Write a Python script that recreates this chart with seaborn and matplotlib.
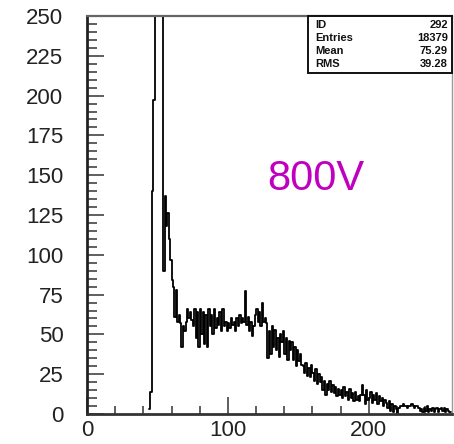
import numpy as np
import pandas as pd
import matplotlib
matplotlib.use("Agg")
import matplotlib.pyplot as plt
from matplotlib.patches import Rectangle
from matplotlib.ticker import MultipleLocator
import seaborn as sns

# Pulse-height spectrum at 800 V, 1-channel bins starting at channel 44
first_channel = 44
counts = [
    3, 14, 140, 197, 520, 980, 1150, 1020, 760, 300,          # 44-53
    90, 137, 118, 126, 110, 97, 84, 80, 61, 78,               # 54-63
    58, 62, 57, 42, 55, 52, 58, 66, 60, 64,                   # 64-73
    59, 55, 66, 48, 64, 42, 66, 50, 64, 44,                   # 74-83
    62, 42, 66, 55, 62, 50, 66, 54, 60, 56,                   # 84-93
    64, 52, 66, 55, 58, 52, 57, 54, 60, 56,                   # 94-103
    58, 52, 60, 55, 62, 57, 60, 58, 77, 56,                   # 104-113
    61, 52, 58, 49, 55, 62, 66, 58, 64, 55,                   # 114-123
    70, 58, 60, 57, 35, 52, 38, 55, 42, 53,                   # 124-133
    40, 48, 36, 50, 45, 52, 38, 48, 34, 46,                   # 134-143
    40, 45, 34, 42, 30, 40, 33, 38, 31, 30,                   # 144-153
    26, 32, 24, 29, 23, 31, 26, 21, 28, 19,                   # 154-163
    25, 20, 23, 15, 21, 12, 19, 15, 21, 14,                   # 164-173
    18, 13, 17, 11, 16, 12, 15, 10, 17, 11,                   # 174-183
    14, 9, 16, 10, 13, 8, 14, 9, 11, 8,                       # 184-193
    12, 18, 12, 6, 15, 9, 10, 14, 7, 12,                      # 194-203
    9, 13, 6, 11, 8, 10, 5, 9, 7, 4,                          # 204-213
    8, 2, 6, 1, 5, 3, 0, 4, 5, 5,                             # 214-223
    6, 5, 5, 4, 5, 5, 6, 5, 4, 5,                             # 224-233
    5, 4, 2, 3, 1, 4, 2, 5, 1, 3,                             # 234-243
    2, 4, 1, 3, 4, 1, 3, 4, 2, 4,                             # 244-253
    1, 3, 2, 1,                                               # 254-257
]
x_max = 259
y_max = 250
y_ticks = [0, 25, 50, 75, 100, 125, 150, 175, 200, 225, 250]
x_ticks = [0, 100, 200]

stat_names = ["ID", "Entries", "Mean", "RMS"]
stat_values = ["292", "18379", "75.29", "39.28"]
voltage_label = "800V"

channels = first_channel + np.arange(len(counts))
df = pd.DataFrame({"channel": channels + 0.5, "count": counts})
last_edge = first_channel + len(counts)

sns.set_style("white")
plt.rcParams["font.family"] = ["Liberation Sans", "DejaVu Sans"]

fig = plt.figure(figsize=(4.54, 4.44), dpi=100)
ax = fig.add_axes([87 / 454, 30 / 444, 365 / 454, 398 / 444])

sns.histplot(data=df, x="channel", weights="count", binwidth=1,
             binrange=(first_channel, last_edge),
             element="step", fill=False, color="black", linewidth=1.3, ax=ax)

ax.set_xlim(0, x_max)
ax.set_ylim(0, y_max)
ax.set_xlabel("")
ax.set_ylabel("")
ax.set_xticks(x_ticks)
ax.set_yticks(y_ticks)
ax.xaxis.set_minor_locator(MultipleLocator(20))
ax.yaxis.set_minor_locator(MultipleLocator(5))

ax.tick_params(axis="both", which="both", direction="in", colors="#333333",
               labelcolor="#222222", labelsize=16, width=1.1,
               bottom=True, left=True, top=False, right=False)
ax.tick_params(axis="y", which="major", length=12.2, pad=17)
ax.tick_params(axis="y", which="minor", length=7.2)
ax.tick_params(axis="x", which="major", length=12, pad=4)
ax.tick_params(axis="x", which="minor", length=5.8)

for side, lw, col in [("left", 2.0, "#222222"), ("bottom", 2.0, "#333333"),
                      ("top", 1.6, "#666666"), ("right", 1.0, "#999999")]:
    ax.spines[side].set_visible(True)
    ax.spines[side].set_linewidth(lw)
    ax.spines[side].set_color(col)

# Statistics box in the upper-right corner
box_x0 = (308 - 87) / 365
box_y0 = (414 - 73) / 398
ax.add_patch(Rectangle((box_x0, box_y0), 1 - box_x0, 1 - box_y0,
                       transform=ax.transAxes, facecolor="white",
                       edgecolor="#111111", linewidth=1.4, zorder=5,
                       clip_on=False))
row_y = [(414 - 25) / 398, (414 - 38) / 398, (414 - 51) / 398, (414 - 64) / 398]
for name, value, yy in zip(stat_names, stat_values, row_y):
    ax.text((315 - 87) / 365, yy, name, transform=ax.transAxes, ha="left",
            va="center", fontsize=8, fontweight="bold", color="#111111",
            zorder=6)
    ax.text((448 - 87) / 365, yy, value, transform=ax.transAxes, ha="right",
            va="center", fontsize=8, fontweight="bold", color="#111111",
            zorder=6)

ax.text((316 - 87) / 365, (414 - 179) / 398, voltage_label,
        transform=ax.transAxes, ha="center", va="center", fontsize=30,
        color="#C000C0")

fig.savefig("out.png", dpi=100)
